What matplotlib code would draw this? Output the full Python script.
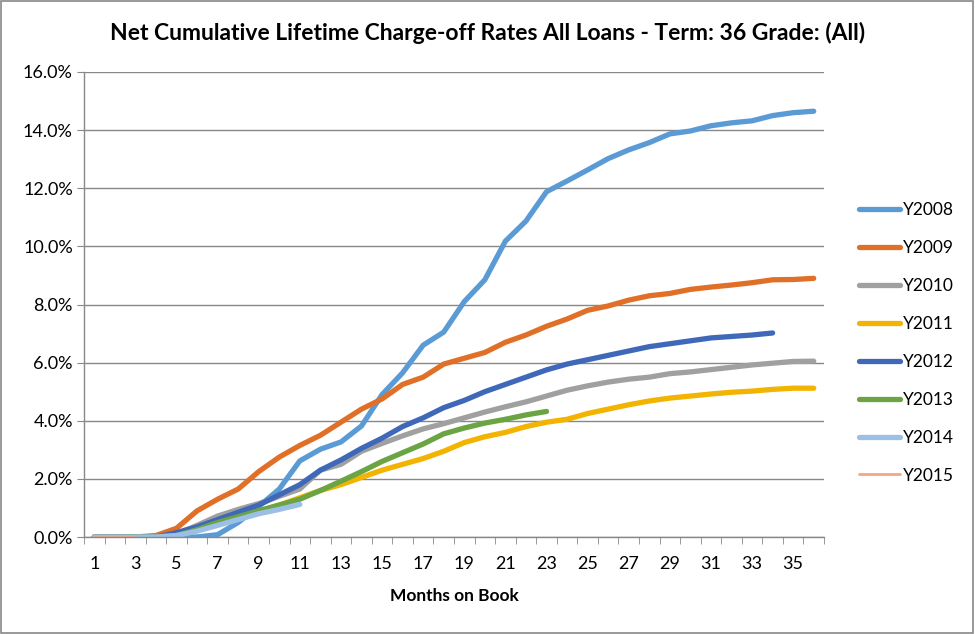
import matplotlib
matplotlib.use("Agg")
import matplotlib.pyplot as plt
from matplotlib.ticker import FuncFormatter, FixedLocator
from matplotlib.patches import Rectangle

plt.rcParams['font.family'] = ['Lato', 'DejaVu Sans']

months = list(range(1, 37))
tick_labels = [str(m) for m in range(1, 36, 2)]

y2008 = [0, 0, 0, 0, 0, 0, 0.08, 0.5, 1.05, 1.65, 2.62, 3.02, 3.27, 3.82, 4.9, 5.65, 6.6, 7.05,
         8.1, 8.85, 10.18, 10.87, 11.88, 12.25, 12.63, 13.02, 13.32, 13.57, 13.87, 13.97, 14.15,
         14.25, 14.32, 14.5, 14.6, 14.65]
y2009 = [0, 0, 0, 0.05, 0.3, 0.9, 1.3, 1.65, 2.25, 2.75, 3.15, 3.5, 3.95, 4.4, 4.75, 5.25, 5.5,
         5.95, 6.15, 6.35, 6.7, 6.95, 7.25, 7.5, 7.8, 7.95, 8.15, 8.3, 8.38, 8.52, 8.6, 8.67,
         8.75, 8.85, 8.86, 8.9]
y2010 = [0, 0, 0, 0, 0.1, 0.4, 0.72, 0.95, 1.15, 1.4, 1.65, 2.3, 2.5, 2.95, 3.22, 3.48, 3.72,
         3.9, 4.1, 4.3, 4.48, 4.65, 4.85, 5.05, 5.2, 5.33, 5.43, 5.5, 5.62, 5.68, 5.76, 5.84,
         5.92, 5.98, 6.04, 6.05]
y2011 = [0, 0, 0, 0, 0.05, 0.25, 0.5, 0.7, 0.9, 1.1, 1.35, 1.6, 1.8, 2.05, 2.3, 2.5, 2.7, 2.95,
         3.25, 3.45, 3.6, 3.8, 3.95, 4.05, 4.25, 4.4, 4.55, 4.68, 4.78, 4.85, 4.92, 4.98, 5.02,
         5.08, 5.12, 5.12]
y2012 = [0, 0, 0, 0, 0.15, 0.35, 0.6, 0.85, 1.1, 1.45, 1.8, 2.3, 2.65, 3.05, 3.4, 3.8, 4.1,
         4.45, 4.7, 5.0, 5.25, 5.5, 5.75, 5.95, 6.1, 6.25, 6.4, 6.55, 6.65, 6.75, 6.85, 6.9,
         6.95, 7.02]
y2013 = [0, 0, 0, 0, 0.05, 0.25, 0.5, 0.7, 0.9, 1.1, 1.3, 1.6, 1.92, 2.25, 2.6, 2.9, 3.2, 3.55,
         3.75, 3.92, 4.05, 4.2, 4.32]
y2014 = [0, 0, 0, 0, 0.05, 0.2, 0.4, 0.6, 0.8, 0.95, 1.12]
y2015 = [0, 0, 0]

series = [
    ("Y2008", y2008, "#5B9BD5", 3.8),
    ("Y2009", y2009, "#E07028", 3.8),
    ("Y2010", y2010, "#A0A0A0", 3.8),
    ("Y2011", y2011, "#F2B400", 3.8),
    ("Y2012", y2012, "#4068B8", 3.8),
    ("Y2013", y2013, "#6AA443", 3.8),
    ("Y2014", y2014, "#9CBFE6", 3.8),
    ("Y2015", y2015, "#F1A88A", 2.0),
]

fig = plt.figure(figsize=(9.75, 6.34), dpi=100)
ax = fig.add_axes([84/975, 1-537/634, (824-84)/975, (537-72)/634])

handles = []
for name, vals, col, lw in series:
    h, = ax.plot(months[:len(vals)], vals, color=col, lw=lw, label=name,
                 solid_capstyle='round', solid_joinstyle='round')
    handles.append(h)

ax.set_xlim(0.5, 36.5)
ax.set_ylim(0, 16)
ax.set_yticks([0, 2, 4, 6, 8, 10, 12, 14, 16])
ax.yaxis.set_major_formatter(FuncFormatter(lambda v, p: f"{v:.1f}%"))
ax.grid(axis='y', color='#888888', lw=1.0)
ax.set_axisbelow(True)

ax.set_xticks(list(range(1, 36, 2)))
ax.set_xticklabels(tick_labels)
ax.xaxis.set_minor_locator(FixedLocator([m + 0.5 for m in range(0, 37)]))
ax.tick_params(axis='x', which='major', length=0, pad=14, labelsize=13)
ax.tick_params(axis='x', which='minor', length=5, color='#888888', direction='out')
ax.tick_params(axis='y', which='major', length=5, color='#888888', labelsize=13, pad=3)

for s in ['top', 'right']:
    ax.spines[s].set_visible(False)
for s in ['left', 'bottom']:
    ax.spines[s].set_color('#888888')
    ax.spines[s].set_linewidth(1.0)

ax.set_xlabel("Months on Book", fontsize=12.5, fontweight='bold', labelpad=11)
fig.suptitle("Net Cumulative Lifetime Charge-off Rates All Loans - Term: 36 Grade: (All)",
             fontsize=16.5, fontweight='bold', y=1-33/634, va='center')

leg = fig.legend(handles=handles, loc='center left', bbox_to_anchor=(843/975, 1-343/634),
                 frameon=False, fontsize=12.5, handlelength=2.4, handletextpad=0.15,
                 labelspacing=1.26)

fig.patches.append(Rectangle((0.001, 0.001), 0.997, 0.997, transform=fig.transFigure,
                             fill=False, edgecolor='#888888', lw=1.2))

fig.savefig("out.png", dpi=100)
